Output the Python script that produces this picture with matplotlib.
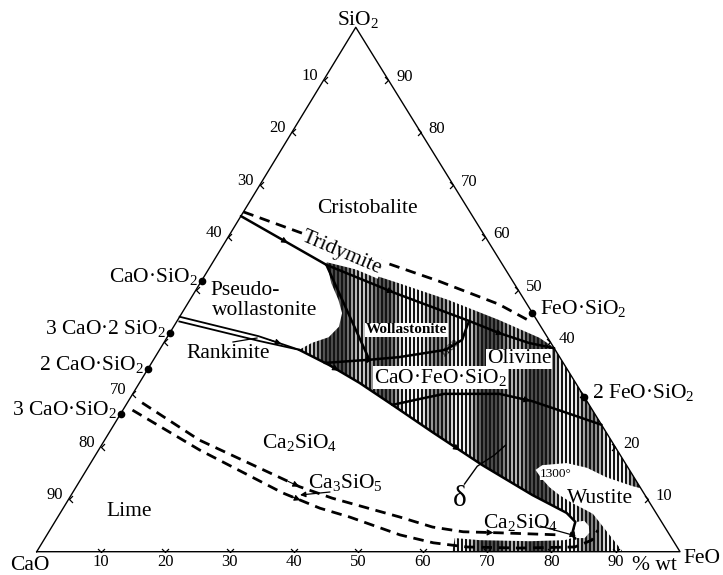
import numpy as np
import matplotlib.pyplot as plt
from matplotlib.patches import Polygon
from matplotlib.path import Path

plt.rcParams['font.family'] = ['Liberation Serif', 'DejaVu Serif']
plt.rcParams['mathtext.fontset'] = 'custom'
plt.rcParams['mathtext.rm'] = 'Liberation Serif'
plt.rcParams['mathtext.it'] = 'Liberation Serif:italic'

# all compositions are (FeO wt%, SiO2 wt%), CaO is the rest
liquid_1300 = [(17.7, 55.2), (23.4, 53.7), (30.9, 51.2), (40.2, 48.0), (49.9, 44.2),
               (57.9, 40.8), (61.0, 39.0), (87.9, 12.1), (86.4, 12.5), (81.5, 14.2),
               (77.6, 16.0), (74.0, 16.9), (70.4, 16.5), (69.8, 15.6), (71.4, 14.1),
               (73.6, 12.3), (75.9, 10.8), (78.6, 9.3), (81.3, 8.0), (82.9, 7.2),
               (91.1, 0.0), (64.6, 0.0), (63.7, 2.6), (67.8, 2.2), (75.7, 2.0),
               (81.0, 2.2), (81.9, 2.6), (81.3, 4.1), (80.9, 5.7), (78.7, 7.4),
               (71.7, 10.8), (61.1, 16.5), (50.2, 22.8), (41.4, 28.0), (34.2, 32.2),
               (27.8, 35.6), (21.7, 38.5), (23.0, 39.8), (25.1, 40.9), (25.7, 42.9),
               (24.9, 45.5), (23.1, 48.0), (20.4, 51.2)]
ca2sio4_pocket = [(81.2, 5.7), (82.2, 5.9), (83.4, 4.9), (84.1, 3.6), (83.9, 2.6),
                  (82.7, 2.6), (81.5, 4.1)]

cristobalite_tridymite = [(0.0, 64.8), (10.4, 61.0), (25.5, 55.6), (36.9, 51.6),
                          (48.4, 47.2), (55.2, 43.8)]
tridymite_pseudo = [(0.0, 64.0), (17.9, 54.7)]
tridymite_olivine = [(17.9, 54.7), (31.3, 49.3), (45.4, 44.0), (51.2, 41.7),
                     (56.8, 39.8), (61.2, 38.8)]
pseudo_wollastonite = [(17.9, 54.7), (33.3, 36.9)]
wollastonite_1100 = [(26.9, 36.0), (33.5, 36.6), (37.9, 37.1), (44.5, 38.5),
                     (46.1, 40.4), (45.6, 42.8), (45.4, 44.0)]
rankinite_upper = [(0.0, 44.8), (14.1, 41.1), (21.7, 38.5)]
rankinite_lower = [(0.4, 43.9), (14.6, 40.2), (21.7, 38.5)]
delta_line = [(21.7, 38.5), (27.8, 35.6), (34.2, 32.2), (41.4, 28.0), (50.2, 22.8),
              (61.1, 16.5), (71.7, 10.8), (78.7, 7.4), (80.9, 5.7), (81.2, 4.6),
              (81.6, 3.2), (82.5, 2.5)]
olivine_ca2sio4 = [(41.4, 28.0), (45.0, 29.1), (48.4, 30.1), (57.0, 30.1), (62.8, 28.7),
                   (69.2, 26.5), (75.8, 24.2)]
delta_leader = [(60.1, 12.9), (60.4, 16.3), (62.0, 18.4), (62.8, 20.3)]
ca3sio5_upper = [(2.3, 28.4), (14.7, 21.3), (34.7, 12.4), (40.9, 10.2), (53.2, 6.6),
                 (59.2, 4.7), (64.4, 3.8), (70.2, 3.6), (75.0, 3.4), (79.8, 3.2)]
ca3sio5_lower = [(1.5, 27.0), (15.7, 19.4), (32.7, 11.2), (39.9, 8.3), (45.4, 6.6),
                 (54.9, 3.2), (60.8, 1.7), (66.4, 0.9), (74.8, 0.7), (83.2, 0.9),
                 (85.2, 2.2), (85.2, 4.1)]

# compounds: name, FeO, SiO2
edge_compounds = [('CaO·SiO$_2$', 0.0, 51.7), ('3 CaO·2 SiO$_2$', 0.0, 41.7),
                  ('2 CaO·SiO$_2$', 0.0, 34.9), ('3 CaO·SiO$_2$', 0.0, 26.3),
                  ('FeO·SiO$_2$', 54.5, 45.5), ('2 FeO·SiO$_2$', 70.5, 29.5)]
cfs = ('CaO·FeO·SiO$_2$', 38.2, 32.0)

left_labels = [10, 20, 30, 40, 70, 80, 90]
right_labels = [90, 80, 70, 60, 50, 40, 20, 10]
bottom_labels = [10, 20, 30, 40, 50, 60, 70, 80, 90]
tick_values = range(10, 100, 10)

W, H = 723, 575
APEX = 0.496


def tern(feo, sio2):
    return feo / 100 + APEX * sio2 / 100, sio2 / 100


def curve(pts):
    xy = np.array([tern(f, s) for f, s in pts])
    return xy[:, 0], xy[:, 1]


def to_px(x, y):
    return 36.7 + 643.3 * x, 551.7 - 524.4 * y


def put(x, y, s, **kw):
    kw.setdefault('fontsize', 15.5)
    kw.setdefault('va', 'baseline')
    return fig.text(x / W, 1 - y / H, s, **kw)


def arrow_on(pts, frac, size=9):
    xy = np.array([tern(f, s) for f, s in pts])
    px = np.array([to_px(*p) for p in xy])
    seg = np.hypot(*np.diff(px, axis=0).T)
    cum = np.concatenate([[0], np.cumsum(seg)])
    d = frac * cum[-1]
    i = min(max(np.searchsorted(cum, d) - 1, 0), len(seg) - 1)
    t = (d - cum[i]) / seg[i]
    p = xy[i] + t * (xy[i + 1] - xy[i])
    q = p - 0.02 * (xy[i + 1] - xy[i]) / np.hypot(*(xy[i + 1] - xy[i]))
    ax.annotate('', xy=p, xytext=q,
                arrowprops=dict(arrowstyle='-|>', color='k', lw=0.8,
                                mutation_scale=size, shrinkA=0, shrinkB=0))


fig = plt.figure(figsize=(W / 100, H / 100), dpi=100)
ax = fig.add_axes([36.7 / W, (H - 551.7) / H, 643.3 / W, 524.4 / H])
ax.set_xlim(0, 1)
ax.set_ylim(0, 1)
ax.axis('off')

# striped fill of the liquid field
liq = Polygon(np.column_stack(curve(liquid_1300)), closed=True,
              facecolor='none', edgecolor='none', transform=ax.transData)
ax.add_patch(liq)
k = np.arange(322)
light = 0.3 + 0.65 * np.clip(0.5 + 0.5 * np.sin(k / 4.1) + 0.35 * np.sin(k / 13.7), 0, 1)
stripes = np.where(k % 2 == 0, 0.08, light)
im = ax.imshow(stripes[None, :], cmap='gray', vmin=0, vmax=1, extent=(0, 1, 0, 1),
               aspect='auto', interpolation='nearest', zorder=1)
im.set_clip_path(liq)
ax.add_patch(Polygon(np.column_stack(curve(ca2sio4_pocket)), closed=True,
                     facecolor='white', edgecolor='none', zorder=2))

# triangle frame
frame = [(0, 0), (100, 0), (0, 100), (0, 0)]
ax.plot(*curve(frame), color='k', lw=1.0, zorder=5, clip_on=False)

# ticks and their numbers
lv = Path([(1, 1), (0, 0), (1, -1)])
rv = Path([(-1, 1), (0, 0), (-1, -1)])
bv = Path([(-1, 1), (0, 0), (1, 1)])
for v in tick_values:
    x, y = tern(0, 100 - v)
    ax.plot(x, y, marker=lv, ms=5, mfc='none', mec='k', mew=0.9, clip_on=False, zorder=5)
    if v in left_labels:
        px, py = to_px(x, y)
        put(px - 6, py - 4, str(v), fontsize=12, ha='right', va='center')
    x, y = tern(100 - v, v)
    ax.plot(x, y, marker=rv, ms=5, mfc='none', mec='k', mew=0.9, clip_on=False, zorder=5)
    if v in right_labels:
        px, py = to_px(x, y)
        put(px + 8, py - 3, str(v), fontsize=12, ha='left', va='center')
    x, y = tern(v, 0)
    ax.plot(x, y, marker=bv, ms=5, mfc='none', mec='k', mew=0.9, clip_on=False, zorder=5)
    if v in bottom_labels:
        px, py = to_px(x, y)
        put(px, py + 10, str(v), fontsize=12, ha='center', va='center')

# boundary curves
thick = dict(color='k', lw=1.8, zorder=4, solid_capstyle='round')
for c in [tridymite_pseudo, tridymite_olivine, pseudo_wollastonite, wollastonite_1100,
          delta_line, olivine_ca2sio4]:
    ax.plot(*curve(c), **thick)
for c in [rankinite_upper, rankinite_lower]:
    ax.plot(*curve(c), color='k', lw=1.3, zorder=4)
ax.plot(*curve(delta_leader), color='k', lw=1.0, zorder=4)
for c in [cristobalite_tridymite, ca3sio5_upper, ca3sio5_lower]:
    ax.plot(*curve(c), color='k', lw=2.0, dashes=(3.8, 2.4), zorder=4)

for c, fr in [(tridymite_pseudo, 0.55), (tridymite_olivine, 0.3), (tridymite_olivine, 0.78),
              (rankinite_upper, 0.85), (delta_line, 0.13), (delta_line, 0.55),
              (wollastonite_1100, 0.3), (olivine_ca2sio4, 0.65), (ca3sio5_upper, 0.4),
              (ca3sio5_upper, 0.85), (ca3sio5_lower, 0.38)]:
    arrow_on(c, fr)

# compounds
for name, f, s in edge_compounds:
    x, y = tern(f, s)
    ax.plot(x, y, 'o', color='k', ms=4.5, zorder=6, clip_on=False)
    px, py = to_px(x, y)
    if f == 0:
        put(px - 4, py + 1, name, ha='right')
    else:
        put(px + 8, py + 1, name, ha='left')
x, y = tern(cfs[1], cfs[2])
ax.plot(x, y, 'o', color='k', ms=4.5, zorder=6)
put(374, 383, cfs[0], ha='left', zorder=7,
    bbox=dict(facecolor='white', edgecolor='none', pad=0.5))

# vertex labels
put(337, 25, 'SiO$_2$', ha='left')
put(10, 569.5, 'CaO', ha='left')
put(683, 563, 'FeO', ha='left')
put(632, 569.5, '% wt', ha='left')

# field labels
put(317, 212.7, 'Cristobalite', ha='left')
put(342, 253, 'Tridymite', ha='center', va='center', rotation=-23, rotation_mode='anchor',
    zorder=7, bbox=dict(facecolor='white', edgecolor='none', pad=0.2))
put(210, 295, 'Pseudo-', ha='left')
put(211.7, 315, 'wollastonite', ha='left')
put(186.7, 358.3, 'Rankinite', ha='left')
put(366, 333.3, 'Wollastonite', ha='left', fontsize=11, fontweight='bold', zorder=7,
    bbox=dict(facecolor='white', edgecolor='none', pad=0.5))
put(450, 348, '1100', ha='center', va='center', fontsize=8, rotation=42)
put(487, 363.3, 'Olivine', ha='left', zorder=7,
    bbox=dict(facecolor='white', edgecolor='none', pad=0.5))
put(261.7, 448.3, 'Ca$_2$SiO$_4$', ha='left')
put(308.3, 487.7, 'Ca$_3$SiO$_5$', ha='left')
put(106.7, 515.7, 'Lime', ha='left')
put(453, 506, 'δ', ha='left', fontsize=21)
put(483, 528, 'Ca$_2$SiO$_4$', ha='left')
put(566.7, 503, 'Wustite', ha='left')
put(540, 476.7, '1300°', ha='left', fontsize=9.5, zorder=7,
    bbox=dict(facecolor='white', edgecolor='none', pad=0.3))

# leaders
def leader(p0, p1):
    fig.add_artist(plt.Line2D([p0[0] / W, p1[0] / W], [1 - p0[1] / H, 1 - p1[1] / H],
                              color='k', lw=0.9))

leader((233, 342), (257, 338))
ax.annotate('', xy=(300 / W, 1 - 495 / H), xytext=(330 / W, 1 - 492 / H),
            xycoords='figure fraction', textcoords='figure fraction',
            arrowprops=dict(arrowstyle='-|>', color='k', lw=0.9, mutation_scale=8,
                            shrinkA=0, shrinkB=0))
ax.annotate('', xy=(576 / W, 1 - 536 / H), xytext=(540 / W, 1 - 526 / H),
            xycoords='figure fraction', textcoords='figure fraction',
            arrowprops=dict(arrowstyle='-|>', color='k', lw=0.9, mutation_scale=8,
                            shrinkA=0, shrinkB=0))

fig.savefig('out.png', dpi=100)
